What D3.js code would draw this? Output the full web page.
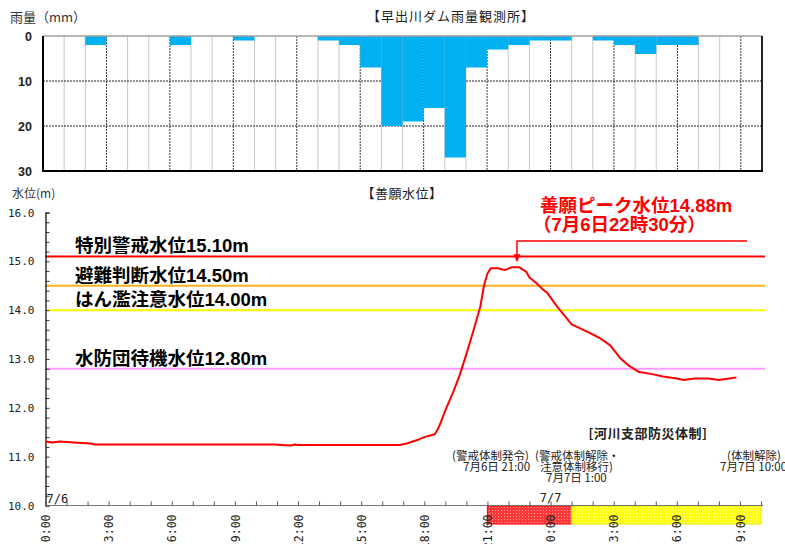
<!DOCTYPE html>
<html>
<head>
<meta charset="utf-8">
<script src="https://cdn.jsdelivr.net/npm/d3@7"></script>
<style>
body{margin:0;background:#fff;}
svg{display:block;font-family:"Noto Sans CJK JP",sans-serif;}
</style>
</head>
<body>
<svg id="mainsvg"></svg>
<script>
// hourly rainfall (mm), index 0 = 7/6 0:00-1:00 ... index 33 = 7/7 9:00-10:00
const rainHours = d3.range(34);
const rainValues = [0,0,2,0,0,0,2,0,0,1,0,0,0,1,2,7,20,19,16,27,7,3,2,1,1,0,1,2,4,2,2,0,0,0];
const rainTicks = [0,10,20,30];

// water level at 善願 (m)
const levelTimes = ["7/6 0:00","7/6 0:20","7/6 0:40","7/6 1:20","7/6 2:10","7/6 2:20","7/6 10:50","7/6 11:40",
    "7/6 11:50","7/6 12:00","7/6 16:50","7/6 17:10","7/6 17:40","7/6 18:00","7/6 18:30","7/6 18:40","7/6 18:50",
    "7/6 19:00","7/6 19:20","7/6 19:40","7/6 20:00","7/6 20:20","7/6 20:40","7/6 20:50","7/6 21:00","7/6 21:10",
    "7/6 21:30","7/6 21:50","7/6 22:10","7/6 22:30","7/6 22:50","7/6 23:00","7/6 23:20","7/6 23:40","7/6 23:50",
    "7/7 0:20","7/7 1:00","7/7 1:50","7/7 2:20","7/7 2:40","7/7 2:50","7/7 3:20","7/7 3:40","7/7 4:10","7/7 4:50",
    "7/7 5:20","7/7 6:00","7/7 6:20","7/7 6:50","7/7 7:30","7/7 8:00","7/7 8:20","7/7 8:50"];
const levelValues = [11.31,11.29,11.31,11.29,11.27,11.25,11.25,11.23,
    11.25,11.24,11.24,11.27,11.34,11.40,11.46,11.58,11.76,
    11.95,12.28,12.65,13.10,13.58,14.08,14.50,14.75,14.86,
    14.86,14.82,14.88,14.88,14.79,14.67,14.55,14.41,14.36,
    14.06,13.71,13.54,13.43,13.33,13.28,13.01,12.88,12.74,12.69,
    12.64,12.60,12.57,12.60,12.60,12.57,12.59,12.62];
const levelTicks = d3.range(10, 16.01, 0.2);

const thresholdNames = ["特別警戒水位15.10m","避難判断水位14.50m","はん濫注意水位14.00m","水防団待機水位12.80m"];
const thresholdValues = [15.10, 14.50, 14.00, 12.80];
const thresholdColors = ["#ff0000", "#ffb31a", "#ffff00", "#ff9cff"];

const peakTime = "7/6 22:30", peakValue = 14.88;
const peakLabel = ["善願ピーク水位14.88m", "（7月6日22時30分）"];

// 河川支部防災体制
const stageStart = ["7/6 21:00", "7/7 1:00"];
const stageEnd = ["7/7 1:00", "7/7 10:00"];
const stageFill = ["url(#redDots)", "url(#yellowDots)"];
const stageStroke = ["#ff0000", "#e8e800"];

let mainsvg = d3.select("#mainsvg"),
    svgWidth = 785,
    svgHeight = 544;
mainsvg.attr("width", svgWidth).attr("height", svgHeight);

const parseTime = d3.timeParse("%m/%d %H:%M"),
    startTime = parseTime("7/6 0:00"),
    endTime = parseTime("7/7 10:00");

let defs = mainsvg.append("defs");
function dotPattern(id, base, dot){
    let p = defs.append("pattern").attr("id", id).attr("width", 3).attr("height", 3)
        .attr("patternUnits", "userSpaceOnUse");
    p.append("rect").attr("width", 3).attr("height", 3).attr("fill", base);
    p.append("rect").attr("width", 1).attr("height", 1).attr("fill", dot);
}
dotPattern("redDots", "#ff3838", "#ff9c9c");
dotPattern("yellowDots", "#ffff10", "#ffffb0");

// ---------- rain panel ----------
let rainX = d3.scaleLinear().domain([0, 34]).range([43, 762]),
    rainY = d3.scaleLinear().domain([0, 30]).range([36, 171]);
let rainG = mainsvg.append("g");

rainG.selectAll(".vgrid").data(d3.range(1, 34)).join("line")
    .attr("x1", d=>rainX(d)).attr("x2", d=>rainX(d))
    .attr("y1", rainY(0)).attr("y2", rainY(30))
    .attr("stroke", d=> d % 3 === 0 ? "#3a3a3a" : "#c8c8c8")
    .attr("stroke-dasharray", d=> d % 3 === 0 ? "2,1" : null)
    .attr("stroke-width", 1);
rainG.selectAll(".hgrid").data([10, 20]).join("line")
    .attr("x1", rainX(0)).attr("x2", rainX(34))
    .attr("y1", d=>rainY(d)).attr("y2", d=>rainY(d))
    .attr("stroke", "#222").attr("stroke-dasharray", "2,1");

rainG.selectAll(".bar").data(rainHours).join("rect")
    .attr("x", d=>rainX(d)).attr("width", d=>rainX(d + 1) - rainX(d))
    .attr("y", rainY(0)).attr("height", (d, i)=>rainY(rainValues[i]) - rainY(0))
    .attr("fill", "#00b0f0");

rainG.append("line").attr("x1", rainX(0)).attr("x2", rainX(34)).attr("y1", rainY(0)).attr("y2", rainY(0))
    .attr("stroke", "#a0a0a0").attr("stroke-width", 1.5);
rainG.append("line").attr("x1", rainX(34)).attr("x2", rainX(34)).attr("y1", rainY(0)).attr("y2", rainY(30))
    .attr("stroke", "#222").attr("stroke-width", 2);
rainG.append("line").attr("x1", rainX(0) - 1).attr("x2", rainX(34) + 1).attr("y1", rainY(30)).attr("y2", rainY(30))
    .attr("stroke", "#000").attr("stroke-width", 2);
rainG.append("line").attr("x1", rainX(0)).attr("x2", rainX(0)).attr("y1", rainY(0)).attr("y2", rainY(30))
    .attr("stroke", "#000").attr("stroke-width", 2);

rainG.selectAll(".rtick").data(rainTicks).join("text")
    .attr("x", 32).attr("y", d=>rainY(d)).attr("dy", "0.36em")
    .attr("text-anchor", "end").attr("font-family", "Liberation Sans, Arial").attr("font-weight", "bold")
    .attr("font-size", 12.5).attr("fill", "#222").text(d=>d);

mainsvg.append("text").attr("x", 10).attr("y", 22).attr("font-size", 13).attr("fill", "#333")
    .text("雨量（mm）");
mainsvg.append("text").attr("x", 451).attr("y", 21).attr("text-anchor", "middle")
    .attr("font-size", 13).attr("letter-spacing", 1).attr("fill", "#222")
    .text("【早出川ダム雨量観測所】");

// ---------- water level panel ----------
let x = d3.scaleTime().domain([startTime, endTime]).range([45.5, 761]),
    y = d3.scaleLinear().domain([10, 16]).range([505.5, 212.5]);
let levelG = mainsvg.append("g");

mainsvg.append("text").attr("x", 12).attr("y", 198).attr("font-size", 12).attr("fill", "#333")
    .text("水位(m)");
mainsvg.append("text").attr("x", 402).attr("y", 198).attr("text-anchor", "middle")
    .attr("font-size", 13).attr("letter-spacing", 0.5).attr("fill", "#222")
    .text("【善願水位】");

// stage bands under the axis
levelG.selectAll(".stage").data(stageStart).join("rect")
    .attr("x", d=>x(parseTime(d)))
    .attr("width", (d, i)=>x(parseTime(stageEnd[i])) - x(parseTime(d)))
    .attr("y", 506).attr("height", 18)
    .attr("fill", (d, i)=>stageFill[i]).attr("stroke", (d, i)=>stageStroke[i]).attr("stroke-width", 1);

// threshold lines
levelG.selectAll(".thr").data(thresholdValues).join("line")
    .attr("x1", x.range()[0]).attr("x2", 765)
    .attr("y1", d=>y(d)).attr("y2", d=>y(d))
    .attr("stroke", (d, i)=>thresholdColors[i]).attr("stroke-width", 2);
levelG.selectAll(".thrLabel").data(thresholdNames).join("text")
    .attr("x", 75).attr("y", (d, i)=>y(thresholdValues[i]) - 4)
    .attr("font-family", "Liberation Sans, Noto Sans CJK JP").attr("font-weight", "bold")
    .attr("font-size", 18.5).attr("fill", "#000").text(d=>d);

// y axis
let yAxisG = levelG.append("g").attr("transform", `translate(${x.range()[0]},0)`)
    .call(d3.axisLeft(y).tickValues(levelTicks).tickSize(-4).tickPadding(11)
        .tickFormat(d=> Math.abs(d - Math.round(d)) < 1e-6 ? d3.format(".1f")(d) : ""));
yAxisG.select(".domain").attr("stroke", "#000").attr("stroke-width", 1.2);
yAxisG.selectAll(".tick line").attr("stroke", "#333");
yAxisG.selectAll("text").attr("font-family", "DejaVu Sans Mono").attr("font-size", 11).attr("fill", "#222");

// water level line
let levelData = levelTimes.map((t, i)=>({t: parseTime(t), v: levelValues[i]}));
levelG.append("path").datum(levelData)
    .attr("fill", "none").attr("stroke", "#ff0000").attr("stroke-width", 2)
    .attr("stroke-linejoin", "round")
    .attr("d", d3.line().x(d=>x(d.t)).y(d=>y(d.v)));

// x axis
let xAxisG = levelG.append("g").attr("transform", `translate(0,${y(10)})`)
    .call(d3.axisBottom(x).ticks(d3.timeHour.every(1)).tickSize(-4)
        .tickFormat(d=> d.getHours() % 3 === 0 ? d3.timeFormat("%-H:%M")(d) : ""));
xAxisG.select(".domain").attr("stroke", "#777").attr("d", `M${x.range()[0]},0H763`);
xAxisG.selectAll(".tick line").attr("stroke", "#555");
xAxisG.selectAll("text")
    .attr("transform", "rotate(-90)").attr("text-anchor", "end")
    .attr("x", -9).attr("y", 0).attr("dy", "0.36em")
    .attr("font-family", "DejaVu Sans Mono").attr("font-size", 11.5).attr("fill", "#222");

levelG.append("text").attr("x", x(startTime) + 1).attr("y", 503)
    .attr("font-family", "DejaVu Sans Mono").attr("font-size", 12).attr("fill", "#222").text("7/6");
levelG.append("text").attr("x", x(parseTime("7/7 0:00"))).attr("y", 502).attr("text-anchor", "middle")
    .attr("font-family", "DejaVu Sans Mono").attr("font-size", 12).attr("fill", "#222").text("7/7");

// peak annotation
let px = x(parseTime(peakTime)) - 2, py = y(peakValue) - 5;
levelG.append("path").attr("d", `M747,241H${px}V${py - 6}`)
    .attr("fill", "none").attr("stroke", "#ff0000").attr("stroke-width", 1.5);
levelG.append("path").attr("d", `M${px - 3.5},${py - 8}L${px + 3.5},${py - 8}L${px},${py}Z`)
    .attr("fill", "#ff0000");
levelG.selectAll(".peakLabel").data(peakLabel).join("text")
    .attr("x", (d, i)=> i === 0 ? 540 : 533).attr("y", (d, i)=>212 + i * 19)
    .attr("font-family", "Liberation Sans, Noto Sans CJK JP").attr("font-weight", "bold")
    .attr("font-size", 18.5).attr("fill", "#ff0000").text(d=>d);

// 防災体制 notes
levelG.append("text").attr("x", 648).attr("y", 438).attr("text-anchor", "middle")
    .attr("font-weight", "bold").attr("font-size", 13).attr("letter-spacing", 0.5).attr("fill", "#222")
    .text("[河川支部防災体制]");
let notes = [
    ["(警戒体制発令)", 452, 460], ["7月6日 21:00", 463, 471],
    ["(警戒体制解除・", 535, 460], ["注意体制移行)", 540, 471], ["7月7日 1:00", 546, 482],
    ["(体制解除)", 727, 460], ["7月7日 10:00", 720, 471]
];
levelG.selectAll(".note").data(notes).join("text")
    .attr("x", d=>d[1]).attr("y", d=>d[2])
    .attr("font-size", 11.5).attr("fill", "#222").text(d=>d[0]);
</script>
</body>
</html>
